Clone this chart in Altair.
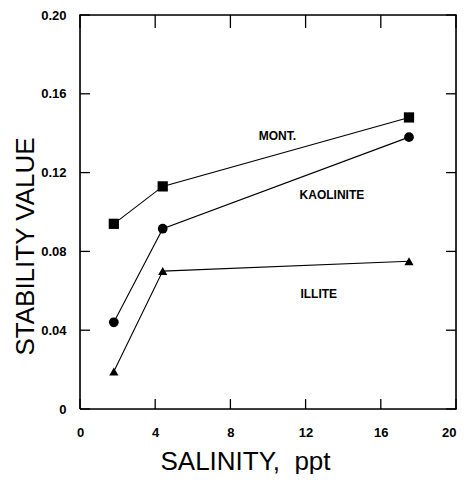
import altair as alt
import pandas as pd

# Data
salinity = [1.8, 4.4, 17.5]
mont = [0.094, 0.113, 0.148]
kaolinite = [0.044, 0.0915, 0.138]
illite = [0.019, 0.070, 0.075]

series_names = ["MONT.", "KAOLINITE", "ILLITE"]
series_shapes = ["square", "circle", "triangle-up"]

label_text = ["MONT.", "KAOLINITE", "ILLITE"]
label_x = [10.5, 13.4, 12.7]
label_y = [0.1386, 0.1086, 0.0584]

x_ticks = [0, 4, 8, 12, 16, 20]
y_ticks = [0, 0.04, 0.08, 0.12, 0.16, 0.20]

W, H = 376, 394
X_MIN, X_MAX = 0, 20
Y_MIN, Y_MAX = 0, 0.20

# series points
pts = []
for name, vals in zip(series_names, [mont, kaolinite, illite]):
    for s, v in zip(salinity, vals):
        pts.append({"series": name, "x": s, "y": v})
df_pts = pd.DataFrame(pts)
labels = pd.DataFrame({"t": label_text, "x": label_x, "y": label_y})

# all line work (series polylines, frame and inward ticks) in one table
segs = []
for name, vals in zip(series_names, [mont, kaolinite, illite]):
    for i, (s, v) in enumerate(zip(salinity, vals)):
        segs.append({"g": name, "o": i, "x": s, "y": v, "w": 1.1})

frame_x = [X_MIN, X_MAX, X_MAX, X_MIN, X_MIN]
frame_y = [Y_MIN, Y_MIN, Y_MAX, Y_MAX, Y_MIN]
for i, (fx, fy) in enumerate(zip(frame_x, frame_y)):
    segs.append({"g": "frame", "o": i, "x": fx, "y": fy, "w": 1.6})

dx = (X_MAX - X_MIN) / W * 10      # 10 px tick length in x data units
dy = (Y_MAX - Y_MIN) / H * 10      # 10 px tick length in y data units
dy_top = (Y_MAX - Y_MIN) / H * 13

k = 0


def add_tick(x1, y1, x2, y2):
    global k
    segs.append({"g": f"t{k}", "o": 0, "x": x1, "y": y1, "w": 1.3})
    segs.append({"g": f"t{k}", "o": 1, "x": x2, "y": y2, "w": 1.3})
    k += 1


for v in y_ticks:
    add_tick(X_MIN, v, X_MIN + dx, v)
    add_tick(X_MAX - dx, v, X_MAX, v)
for v in x_ticks:
    add_tick(v, Y_MIN, v, Y_MIN + dy)
    add_tick(v, Y_MAX - dy_top, v, Y_MAX)
df_lines = pd.DataFrame(segs)

xscale = alt.Scale(domain=[X_MIN, X_MAX], nice=False, zero=False)
yscale = alt.Scale(domain=[Y_MIN, Y_MAX], nice=False, zero=False)

tick_font = "Liberation Sans"
title_font = "Liberation Sans"

x_axis = alt.Axis(
    values=x_ticks, ticks=False, domain=False, grid=False, labelFlush=False,
    labelAlign=alt.ExprRef(expr="datum.value == 20 ? 'right' : 'center'"),
    labelFont=tick_font, labelFontSize=13, labelFontWeight="bold",
    labelColor="black", labelPadding=17,
    title="SALINITY,\u00a0\u00a0ppt", titleFont=title_font, titleFontSize=26,
    titleFontWeight="normal", titleColor="black",
    titleX=165, titleY=60, titleAlign="center", titleBaseline="alphabetic",
)
y_axis = alt.Axis(
    values=y_ticks, ticks=False, domain=False, grid=False, labelFlush=False,
    labelExpr="datum.value == 0 ? '0' : format(datum.value, '.2f')",
    labelFont=tick_font, labelFontSize=13, labelFontWeight="bold",
    labelColor="black", labelPadding=14,
    title="STABILITY VALUE", titleFont=title_font, titleFontSize=26,
    titleFontWeight="normal", titleColor="black",
    titleX=-47, titleY=231, titleAlign="center", titleBaseline="alphabetic",
    titleAngle=270,
)

X = alt.X("x:Q", scale=xscale, axis=x_axis)
Y = alt.Y("y:Q", scale=yscale, axis=y_axis)

lines = alt.Chart(df_lines).mark_line(color="black").encode(
    x=X, y=Y, detail="g:N", order="o:Q",
    strokeWidth=alt.StrokeWidth("w:Q", scale=None, legend=None),
)

points = alt.Chart(df_pts).mark_point(filled=True, color="black", opacity=1).encode(
    x=X, y=Y,
    shape=alt.Shape("series:N", scale=alt.Scale(domain=series_names, range=series_shapes), legend=None),
    size=alt.Size("series:N", scale=alt.Scale(domain=series_names, range=[105, 85, 110]), legend=None),
)

texts = alt.Chart(labels).mark_text(
    font=tick_font, fontSize=12, fontWeight="bold", color="black"
).encode(x=X, y=Y, text="t:N")

chart = alt.layer(lines, points, texts).properties(
    width=W, height=H,
    background="white",
    autosize=alt.AutoSizeParams(type="none"),
    padding={"left": 72, "top": 7, "right": 2, "bottom": 65},
)

chart.save("out.html", embed_options={"renderer": "svg", "actions": False})
